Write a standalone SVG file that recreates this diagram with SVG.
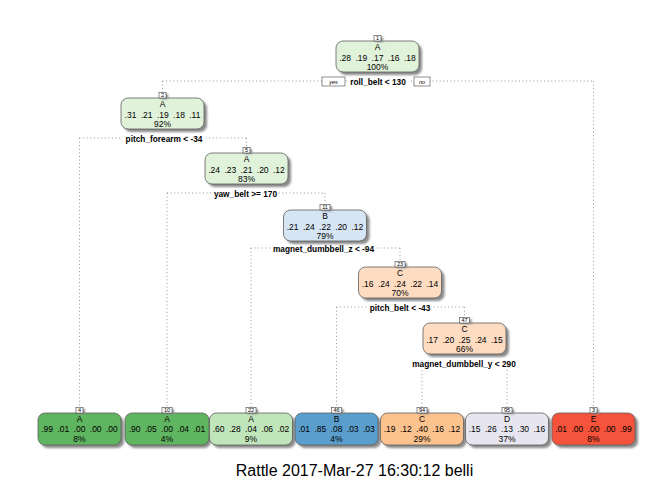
<svg xmlns="http://www.w3.org/2000/svg" width="672" height="480" viewBox="0 0 672 480">
<defs>
<filter id="blur" x="-10%" y="-30%" width="130%" height="170%"><feGaussianBlur stdDeviation="1.2"/></filter>
<style>
.sh{fill:#8a8a8a;filter:url(#blur)}
.nb{stroke:#5e5e5e;stroke-width:0.8}
.t{font-family:"Liberation Sans",Arial,sans-serif;font-size:8.5px;text-anchor:middle;fill:#000}
.p{word-spacing:2px}
.s{font-family:"Liberation Sans",Arial,sans-serif;font-size:8.3px;font-weight:bold;text-anchor:middle;fill:#000}
.lb{fill:#fff;stroke:#444;stroke-width:0.6}
.lt{font-family:"Liberation Sans",Arial,sans-serif;font-size:5.5px;text-anchor:middle;fill:#000}
.yn{font-family:"Liberation Sans",Arial,sans-serif;font-size:5.5px;font-style:italic;text-anchor:middle;fill:#000}
.c{stroke:#8a8a8a;stroke-width:0.9;stroke-dasharray:1 2.6;fill:none}
.gA{fill:#e0f2da}.gB{fill:#d6e5f4}.gC{fill:#fddcc2}
.lA1{fill:#60b560}.lA2{fill:#c1e5bb}.lB{fill:#5a9ecd}.lC{fill:#fdc38f}.lD{fill:#e7e6f0}.lE{fill:#f5533b}
.bg{fill:#fff}
</style>
</defs>
<rect width="672" height="480" fill="#fff"/>

<g id="connectors">
<path class="c" d="M162.5 81H593.5 M162.5 81V92.5 M593.5 81V407.5"/>
<path class="c" d="M79.5 138H246.5 M79.5 138V407.5 M246.5 138V147.5"/>
<path class="c" d="M167 193H325 M167 193V407.5 M325 193V204.5"/>
<path class="c" d="M251 248H400 M251 248V407.5 M400 248V261.5"/>
<path class="c" d="M336.5 307H464.5 M336.5 307V407.5 M464.5 307V317.5"/>
<path class="c" d="M422 363H507 M422 363V407.5 M507 363V407.5"/>
</g>

<g id="split-labels">
<rect class="bg" x="347" y="77" width="63" height="9"/>
<text class="s" x="378" y="84.5">roll_belt &lt; 130</text>
<rect class="lb" x="322" y="77" width="23" height="9"/>
<text class="yn" x="333.5" y="83.5">yes</text>
<rect class="lb" x="414" y="77" width="16" height="9"/>
<text class="yn" x="422" y="83.5">no</text>
<rect class="bg" x="122" y="134" width="84" height="9"/>
<text class="s" x="164" y="141.5">pitch_forearm &lt; -34</text>
<rect class="bg" x="213" y="189" width="65" height="9"/>
<text class="s" x="245.5" y="196.5">yaw_belt &gt;= 170</text>
<rect class="bg" x="272" y="244" width="103" height="9"/>
<text class="s" x="323.5" y="251.5">magnet_dumbbell_z &lt; -94</text>
<rect class="bg" x="368" y="303" width="64" height="9"/>
<text class="s" x="400" y="310.5">pitch_belt &lt; -43</text>
<rect class="bg" x="411" y="359" width="106" height="9"/>
<text class="s" x="464" y="366.5">magnet_dumbbell_y &lt; 290</text>
</g>

<g id="node1">
<rect class="sh" x="339" y="44" width="83" height="31" rx="7"/>
<rect class="nb gA" x="336" y="41" width="83" height="31" rx="7"/>
<text class="t" x="377.5" y="49.5">A</text>
<text class="t p" x="377.5" y="60.5">.28 .19 .17 .16 .18</text>
<text class="t" x="377.5" y="70">100%</text>
<rect class="sh" x="376" y="37" width="7" height="5"/>
<rect class="lb" x="374" y="35.5" width="7" height="5.5"/>
<text class="lt" x="377.5" y="40">1</text>
</g>

<g id="node2">
<rect class="sh" x="124" y="101" width="83" height="31" rx="7"/>
<rect class="nb gA" x="121" y="98" width="83" height="31" rx="7"/>
<text class="t" x="162.5" y="106.5">A</text>
<text class="t p" x="162.5" y="117.5">.31 .21 .19 .18 .11</text>
<text class="t" x="162.5" y="127">92%</text>
<rect class="sh" x="161" y="94" width="7" height="5"/>
<rect class="lb" x="159" y="92.5" width="7" height="5.5"/>
<text class="lt" x="162.5" y="97">2</text>
</g>

<g id="node5">
<rect class="sh" x="208" y="156" width="83" height="31" rx="7"/>
<rect class="nb gA" x="205" y="153" width="83" height="31" rx="7"/>
<text class="t" x="246.5" y="161.5">A</text>
<text class="t p" x="246.5" y="172.5">.24 .23 .21 .20 .12</text>
<text class="t" x="246.5" y="182">83%</text>
<rect class="sh" x="245" y="149" width="7" height="5"/>
<rect class="lb" x="243" y="147.5" width="7" height="5.5"/>
<text class="lt" x="246.5" y="152">5</text>
</g>

<g id="node11">
<rect class="sh" x="286.5" y="213" width="83" height="31" rx="7"/>
<rect class="nb gB" x="283.5" y="210" width="83" height="31" rx="7"/>
<text class="t" x="325" y="218.5">B</text>
<text class="t p" x="325" y="229.5">.21 .24 .22 .20 .12</text>
<text class="t" x="325" y="239">79%</text>
<rect class="sh" x="322" y="206" width="10" height="5"/>
<rect class="lb" x="320" y="204.5" width="10" height="5.5"/>
<text class="lt" x="325" y="209">11</text>
</g>

<g id="node23">
<rect class="sh" x="361.5" y="270" width="83" height="31" rx="7"/>
<rect class="nb gC" x="358.5" y="267" width="83" height="31" rx="7"/>
<text class="t" x="400" y="275.5">C</text>
<text class="t p" x="400" y="286.5">.16 .24 .24 .22 .14</text>
<text class="t" x="400" y="296">70%</text>
<rect class="sh" x="397" y="263" width="10" height="5"/>
<rect class="lb" x="395" y="261.5" width="10" height="5.5"/>
<text class="lt" x="400" y="266">23</text>
</g>

<g id="node47">
<rect class="sh" x="426" y="326" width="83" height="31" rx="7"/>
<rect class="nb gC" x="423" y="323" width="83" height="31" rx="7"/>
<text class="t" x="464.5" y="331.5">C</text>
<text class="t p" x="464.5" y="342.5">.17 .20 .25 .24 .15</text>
<text class="t" x="464.5" y="352">66%</text>
<rect class="sh" x="461.5" y="319" width="10" height="5"/>
<rect class="lb" x="459.5" y="317.5" width="10" height="5.5"/>
<text class="lt" x="464.5" y="322">47</text>
</g>

<g id="node4">
<rect class="sh" x="41" y="416" width="83" height="32" rx="7"/>
<rect class="nb lA1" x="38" y="413" width="83" height="32" rx="7"/>
<text class="t" x="79.5" y="422">A</text>
<text class="t p" x="79.5" y="432">.99 .01 .00 .00 .00</text>
<text class="t" x="79.5" y="442">8%</text>
<rect class="sh" x="78" y="409" width="7" height="5"/>
<rect class="lb" x="76" y="407.5" width="7" height="5.5"/>
<text class="lt" x="79.5" y="412">4</text>
</g>

<g id="node10">
<rect class="sh" x="128" y="416" width="83" height="32" rx="7"/>
<rect class="nb lA1" x="125" y="413" width="84" height="32" rx="7"/>
<text class="t" x="167" y="422">A</text>
<text class="t p" x="167" y="432">.90 .05 .00 .04 .01</text>
<text class="t" x="167" y="442">4%</text>
<rect class="sh" x="164" y="409" width="10" height="5"/>
<rect class="lb" x="162" y="407.5" width="10" height="5.5"/>
<text class="lt" x="167" y="412">10</text>
</g>

<g id="node22">
<rect class="sh" x="212.5" y="416" width="83" height="32" rx="7"/>
<rect class="nb lA2" x="209.5" y="413" width="83" height="32" rx="7"/>
<text class="t" x="251" y="422">A</text>
<text class="t p" x="251" y="432">.60 .28 .04 .06 .02</text>
<text class="t" x="251" y="442">9%</text>
<rect class="sh" x="248" y="409" width="10" height="5"/>
<rect class="lb" x="246" y="407.5" width="10" height="5.5"/>
<text class="lt" x="251" y="412">22</text>
</g>

<g id="node46">
<rect class="sh" x="298" y="416" width="83" height="32" rx="7"/>
<rect class="nb lB" x="295" y="413" width="83" height="32" rx="7"/>
<text class="t" x="336.5" y="422">B</text>
<text class="t p" x="336.5" y="432">.01 .85 .08 .03 .03</text>
<text class="t" x="336.5" y="442">4%</text>
<rect class="sh" x="333.5" y="409" width="10" height="5"/>
<rect class="lb" x="331.5" y="407.5" width="10" height="5.5"/>
<text class="lt" x="336.5" y="412">46</text>
</g>

<g id="node94">
<rect class="sh" x="383.5" y="416" width="83" height="32" rx="7"/>
<rect class="nb lC" x="380.5" y="413" width="83" height="32" rx="7"/>
<text class="t" x="422" y="422">C</text>
<text class="t p" x="422" y="432">.19 .12 .40 .16 .12</text>
<text class="t" x="422" y="442">29%</text>
<rect class="sh" x="419" y="409" width="10" height="5"/>
<rect class="lb" x="417" y="407.5" width="10" height="5.5"/>
<text class="lt" x="422" y="412">94</text>
</g>

<g id="node95">
<rect class="sh" x="468.5" y="416" width="83" height="32" rx="7"/>
<rect class="nb lD" x="465.5" y="413" width="83" height="32" rx="7"/>
<text class="t" x="507" y="422">D</text>
<text class="t p" x="507" y="432">.15 .26 .13 .30 .16</text>
<text class="t" x="507" y="442">37%</text>
<rect class="sh" x="504" y="409" width="10" height="5"/>
<rect class="lb" x="502" y="407.5" width="10" height="5.5"/>
<text class="lt" x="507" y="412">95</text>
</g>

<g id="node3">
<rect class="sh" x="555" y="416" width="83" height="32" rx="7"/>
<rect class="nb lE" x="552" y="413" width="83" height="32" rx="7"/>
<text class="t" x="593.5" y="422">E</text>
<text class="t p" x="593.5" y="432">.01 .00 .00 .00 .99</text>
<text class="t" x="593.5" y="442">8%</text>
<rect class="sh" x="592" y="409" width="7" height="5"/>
<rect class="lb" x="590" y="407.5" width="7" height="5.5"/>
<text class="lt" x="593.5" y="412">3</text>
</g>

<text x="354.5" y="476" font-family="'Liberation Sans',Arial,sans-serif" font-size="16" text-anchor="middle" fill="#000">Rattle 2017-Mar-27 16:30:12 belli</text>
</svg>
